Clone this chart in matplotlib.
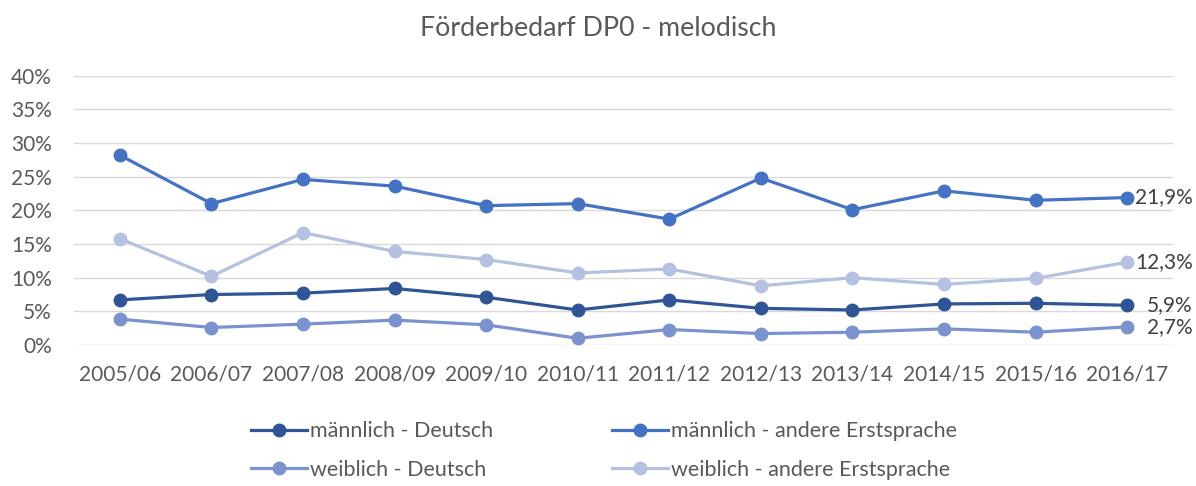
import numpy as np
import matplotlib.pyplot as plt
from matplotlib.ticker import PercentFormatter

plt.rcParams['font.family'] = ['Lato', 'DejaVu Sans']

# school years
years = ["2005/06", "2006/07", "2007/08", "2008/09", "2009/10", "2010/11",
         "2011/12", "2012/13", "2013/14", "2014/15", "2015/16", "2016/17"]

# shares (fraction) per group
m_deutsch = [0.067, 0.075, 0.077, 0.084, 0.071, 0.052, 0.067, 0.0545, 0.052, 0.061, 0.062, 0.059]
m_andere = [0.282, 0.210, 0.246, 0.236, 0.207, 0.210, 0.187, 0.248, 0.201, 0.229, 0.215, 0.219]
w_deutsch = [0.0385, 0.026, 0.031, 0.037, 0.030, 0.010, 0.023, 0.017, 0.019, 0.024, 0.019, 0.027]
w_andere = [0.158, 0.102, 0.167, 0.139, 0.127, 0.107, 0.113, 0.088, 0.100, 0.090, 0.099, 0.123]

series = [
    ("männlich - Deutsch", m_deutsch, "#2F5597"),
    ("männlich - andere Erstsprache", m_andere, "#4472C4"),
    ("weiblich - Deutsch", w_deutsch, "#7A93CF"),
    ("weiblich - andere Erstsprache", w_andere, "#B4C1E1"),
]

text_col = "#595959"

fig = plt.figure(figsize=(11.96, 4.86), dpi=100)
ax = fig.add_axes([0.0619, 0.2901, 0.9189, 0.5541])

x = np.arange(len(years))
lines = []
for name, vals, col in series:
    ln, = ax.plot(x, vals, color=col, lw=2.3, marker='o', ms=9, label=name, zorder=3)
    lines.append(ln)
    last = vals[-1]
    ax.annotate(f"{last*100:.1f}%".replace('.', ','), xy=(x[-1], last),
                xytext=(47, 0), textcoords='offset points', ha='right', va='center',
                fontsize=15, color="#404040")

ax.set_xlim(-0.5, len(years) - 0.5)
ax.set_ylim(0, 0.40)
ax.set_yticks(np.arange(0, 0.41, 0.05))
ax.yaxis.set_major_formatter(PercentFormatter(1.0, decimals=0))
ax.set_xticks(x)
ax.set_xticklabels(years)
ax.grid(axis='y', color='#D9D9D9', lw=1.0, zorder=0)
ax.set_axisbelow(True)
for s in ax.spines.values():
    s.set_visible(False)
ax.tick_params(axis='both', length=0, labelsize=15, colors=text_col)
ax.tick_params(axis='x', pad=14)
ax.tick_params(axis='y', pad=16)

fig.text(0.5, 0.942, "Förderbedarf DP0 - melodisch", ha='center', va='center',
         fontsize=19.3, color=text_col)

# legend rows: männlich on top, weiblich below (column-wise fill)
order = [0, 2, 1, 3]
leg = fig.legend([lines[i] for i in order], [series[i][0] for i in order],
                 loc='center', bbox_to_anchor=(0.505, 0.073), ncol=2, frameon=False,
                 fontsize=15.5, labelcolor=text_col, columnspacing=5.5,
                 handlelength=2.6, handletextpad=0.15, labelspacing=0.85)

fig.savefig("out.png", dpi=100)
